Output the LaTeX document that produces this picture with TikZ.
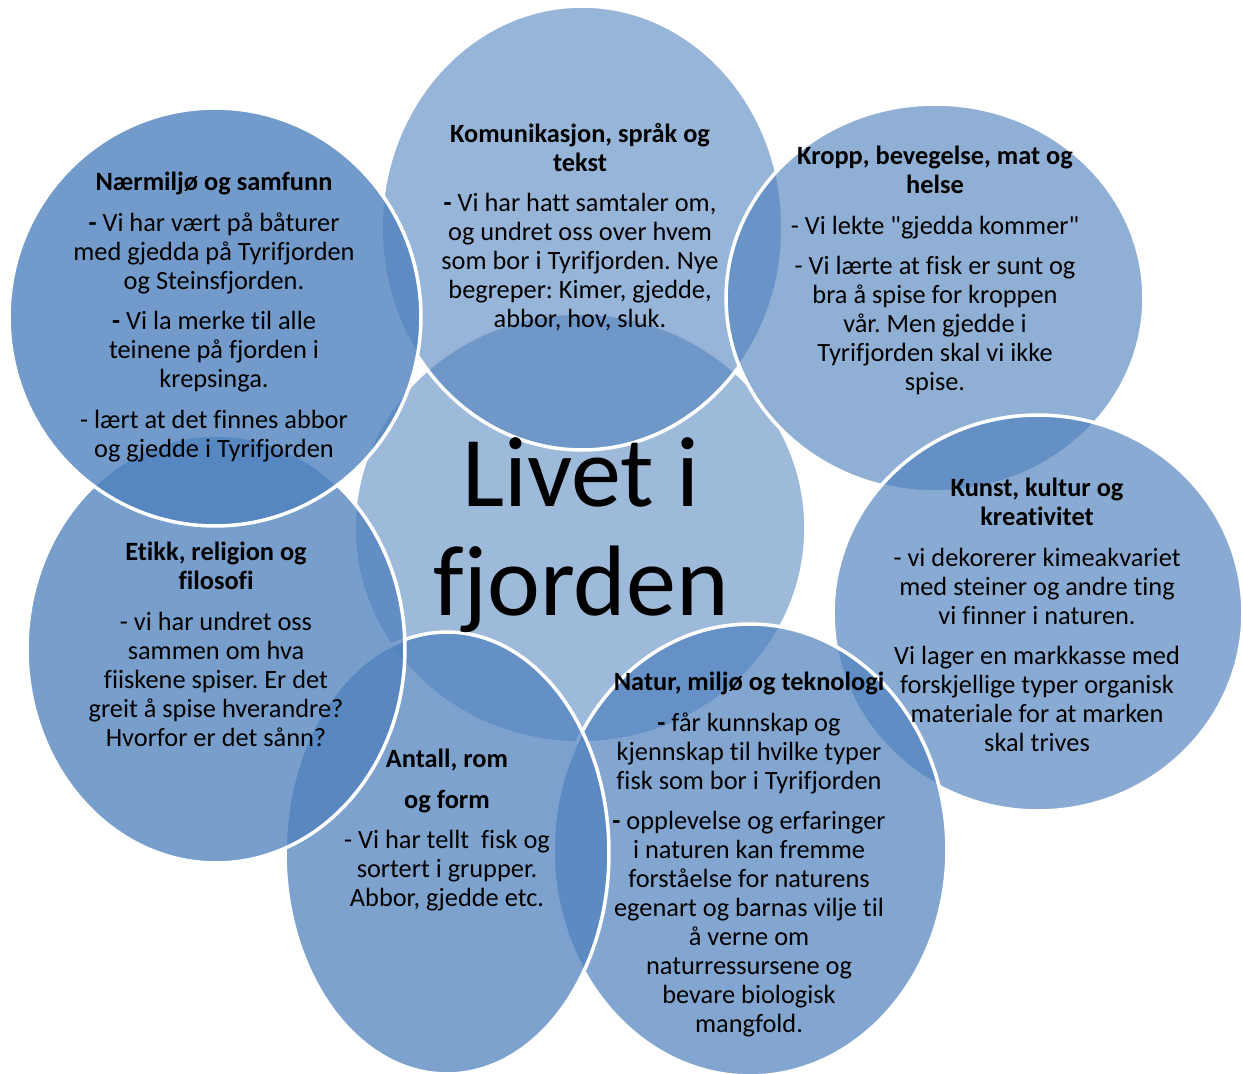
\documentclass[tikz,border=0pt]{standalone}
\usepackage{fontspec}
\setmainfont[Ligatures={TeX,NoCommon}]{Carlito}
\definecolor{fjord}{RGB}{79,129,189}
\tikzset{
  venn/.style={fill=fjord, draw=white, line width=2pt},
  topic/.style={align=center, anchor=north, inner sep=0pt, font=\fontsize{15}{16.5}\selectfont},
}
\newcommand{\pgap}{\\[6.5pt]}
\frenchspacing

\begin{document}
\begin{tikzpicture}[x=0.02cm,y=-0.02cm]
\useasboundingbox (0,0) rectangle (1243,1074);
% the circles, back to front
\draw[venn,fill opacity=0.55] (580,528) ellipse [x radius=4.52cm, y radius=4.30cm];
\draw[venn,fill opacity=0.59] (582,228) ellipse [x radius=4.02cm, y radius=4.44cm];
\draw[venn,fill opacity=0.63] (935,298) ellipse [x radius=4.18cm, y radius=3.88cm];
\draw[venn,fill opacity=0.67] (1038,613) ellipse [x radius=4.10cm, y radius=3.96cm];
\draw[venn,fill opacity=0.71] (750,850) ellipse [x radius=3.94cm, y radius=4.52cm];
\draw[venn,fill opacity=0.74] (447,853) ellipse [x radius=3.24cm, y radius=4.42cm];
\draw[venn,fill opacity=0.77] (216,649) ellipse [x radius=3.78cm, y radius=4.28cm];
\draw[venn,fill opacity=0.80] (215,317) ellipse [x radius=4.12cm, y radius=4.18cm];
% texts
\node[align=center, inner sep=0pt, font=\fontsize{57}{62}\selectfont] (livet) at (581,535) {Livet i\\fjorden};
\node[topic] (komm) at (580,123) {\textbf{Komunikasjon, språk og}\\ \textbf{tekst}\pgap
\textbf{-} Vi har hatt samtaler om,\\ og undret oss over hvem\\ som bor i Tyrifjorden. Nye\\ begreper: Kimer, gjedde,\\ abbor, hov, sluk.};
\node[topic] (kropp) at (935,146) {\textbf{Kropp, bevegelse, mat og}\\ \textbf{helse}\pgap
- Vi lekte \textquotedbl gjedda kommer\textquotedbl\pgap
- Vi lærte at fisk er sunt og\\ bra å spise for kroppen\\ vår. Men gjedde i\\ Tyrifjorden skal vi ikke\\ spise.};
\node[topic] (kunst) at (1037,478) {\textbf{Kunst, kultur og}\\ \textbf{kreativitet}\pgap
- vi dekorerer kimeakvariet\\ med steiner og andre ting\\ vi finner i naturen.\pgap
Vi lager en markkasse med\\ forskjellige typer organisk\\ materiale for at marken\\ skal trives};
\node[topic] (natur) at (749,672) {\textbf{Natur, miljø og teknologi}\pgap
\textbf{-} får kunnskap og\\ kjennskap til hvilke typer\\ fisk som bor i Tyrifjorden\pgap
\textbf{-} opplevelse og erfaringer\\ i naturen kan fremme\\ forståelse for naturens\\ egenart og barnas vilje til\\ å verne om\\ naturressursene og\\ bevare biologisk\\ mangfold.};
\node[topic] (antall) at (447,749) {\textbf{Antall, rom}\pgap \textbf{og form}\pgap
- Vi har tellt\ \ fisk og\\ sortert i grupper.\\ Abbor, gjedde etc.};
\node[topic] (etikk) at (216,542) {\textbf{Etikk, religion og}\\ \textbf{filosofi}\pgap
- vi har undret oss\\ sammen om hva\\ fiiskene spiser. Er det\\ greit å spise hverandre?\\ Hvorfor er det sånn?};
\node[topic] (naer) at (214,172) {\textbf{Nærmiljø og samfunn}\pgap
\textbf{-} Vi har vært på båturer\\ med gjedda på Tyrifjorden\\ og Steinsfjorden.\pgap
\textbf{-} Vi la merke til alle\\ teinene på fjorden i\\ krepsinga.\pgap
- lært at det finnes abbor\\ og gjedde i Tyrifjorden};
\end{tikzpicture}
\end{document}
